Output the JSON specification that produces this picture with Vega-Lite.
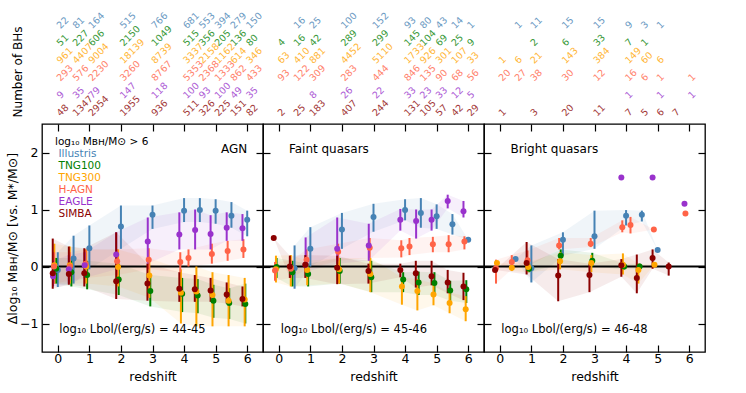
{
"$schema": "https://vega.github.io/schema/vega-lite/v6.json",
"padding": {"left": 5, "top": 10, "right": 5, "bottom": 5},
"background": "white",
"config": {
  "font": "DejaVu Sans",
  "view": {"stroke": "black", "strokeWidth": 1.3},
  "axis": {"grid": false, "domain": false, "tickColor": "black", "tickWidth": 1.2, "labelColor": "black", "titleColor": "black", "labelFontSize": 12.5, "titleFontSize": 12.5, "titleFontWeight": "normal", "labelFont": "DejaVu Sans", "titleFont": "DejaVu Sans"},
  "text": {"font": "DejaVu Sans"}
},
"datasets": {
"counts": [
{"p":1,"s":"Illustris","z":0,"n":22},{"p":1,"s":"Illustris","z":0.5,"n":81},{"p":1,"s":"Illustris","z":1,"n":164},{"p":1,"s":"Illustris","z":2,"n":515},{"p":1,"s":"Illustris","z":3,"n":766},{"p":1,"s":"Illustris","z":4,"n":681},{"p":1,"s":"Illustris","z":4.5,"n":553},{"p":1,"s":"Illustris","z":5,"n":394},{"p":1,"s":"Illustris","z":5.5,"n":279},{"p":1,"s":"Illustris","z":6,"n":150},
{"p":1,"s":"TNG100","z":0,"n":51},{"p":1,"s":"TNG100","z":0.5,"n":227},{"p":1,"s":"TNG100","z":1,"n":606},{"p":1,"s":"TNG100","z":2,"n":2150},{"p":1,"s":"TNG100","z":3,"n":1049},{"p":1,"s":"TNG100","z":4,"n":515},{"p":1,"s":"TNG100","z":4.5,"n":356},{"p":1,"s":"TNG100","z":5,"n":205},{"p":1,"s":"TNG100","z":5.5,"n":136},{"p":1,"s":"TNG100","z":6,"n":80},
{"p":1,"s":"TNG300","z":0,"n":961},{"p":1,"s":"TNG300","z":0.5,"n":4407},{"p":1,"s":"TNG300","z":1,"n":9004},{"p":1,"s":"TNG300","z":2,"n":18139},{"p":1,"s":"TNG300","z":3,"n":8739},{"p":1,"s":"TNG300","z":4,"n":3337},{"p":1,"s":"TNG300","z":4.5,"n":2158},{"p":1,"s":"TNG300","z":5,"n":1162},{"p":1,"s":"TNG300","z":5.5,"n":614},{"p":1,"s":"TNG300","z":6,"n":346},
{"p":1,"s":"H-AGN","z":0,"n":293},{"p":1,"s":"H-AGN","z":0.5,"n":576},{"p":1,"s":"H-AGN","z":1,"n":2230},{"p":1,"s":"H-AGN","z":2,"n":3260},{"p":1,"s":"H-AGN","z":3,"n":8767},{"p":1,"s":"H-AGN","z":4,"n":5353},{"p":1,"s":"H-AGN","z":4.5,"n":2368},{"p":1,"s":"H-AGN","z":5,"n":1333},{"p":1,"s":"H-AGN","z":5.5,"n":862},{"p":1,"s":"H-AGN","z":6,"n":433},
{"p":1,"s":"EAGLE","z":0,"n":9},{"p":1,"s":"EAGLE","z":0.5,"n":35},{"p":1,"s":"EAGLE","z":1,"n":79},{"p":1,"s":"EAGLE","z":2,"n":147},{"p":1,"s":"EAGLE","z":3,"n":118},{"p":1,"s":"EAGLE","z":4,"n":100},{"p":1,"s":"EAGLE","z":4.5,"n":93},{"p":1,"s":"EAGLE","z":5,"n":100},{"p":1,"s":"EAGLE","z":5.5,"n":49},{"p":1,"s":"EAGLE","z":6,"n":35},
{"p":1,"s":"SIMBA","z":0,"n":48},{"p":1,"s":"SIMBA","z":0.5,"n":1347},{"p":1,"s":"SIMBA","z":1,"n":2954},{"p":1,"s":"SIMBA","z":2,"n":1955},{"p":1,"s":"SIMBA","z":3,"n":936},{"p":1,"s":"SIMBA","z":4,"n":511},{"p":1,"s":"SIMBA","z":4.5,"n":326},{"p":1,"s":"SIMBA","z":5,"n":225},{"p":1,"s":"SIMBA","z":5.5,"n":151},{"p":1,"s":"SIMBA","z":6,"n":82},
{"p":2,"s":"Illustris","z":0.5,"n":16},{"p":2,"s":"Illustris","z":1,"n":25},{"p":2,"s":"Illustris","z":2,"n":100},{"p":2,"s":"Illustris","z":3,"n":152},{"p":2,"s":"Illustris","z":4,"n":93},{"p":2,"s":"Illustris","z":4.5,"n":80},{"p":2,"s":"Illustris","z":5,"n":43},{"p":2,"s":"Illustris","z":5.5,"n":14},{"p":2,"s":"Illustris","z":6,"n":1},
{"p":2,"s":"TNG100","z":0,"n":4},{"p":2,"s":"TNG100","z":0.5,"n":16},{"p":2,"s":"TNG100","z":1,"n":42},{"p":2,"s":"TNG100","z":2,"n":289},{"p":2,"s":"TNG100","z":3,"n":299},{"p":2,"s":"TNG100","z":4,"n":145},{"p":2,"s":"TNG100","z":4.5,"n":104},{"p":2,"s":"TNG100","z":5,"n":69},{"p":2,"s":"TNG100","z":5.5,"n":25},{"p":2,"s":"TNG100","z":6,"n":9},
{"p":2,"s":"TNG300","z":0,"n":63},{"p":2,"s":"TNG300","z":0.5,"n":410},{"p":2,"s":"TNG300","z":1,"n":881},{"p":2,"s":"TNG300","z":2,"n":4452},{"p":2,"s":"TNG300","z":3,"n":5110},{"p":2,"s":"TNG300","z":4,"n":1733},{"p":2,"s":"TNG300","z":4.5,"n":926},{"p":2,"s":"TNG300","z":5,"n":301},{"p":2,"s":"TNG300","z":5.5,"n":107},{"p":2,"s":"TNG300","z":6,"n":33},
{"p":2,"s":"H-AGN","z":0,"n":93},{"p":2,"s":"H-AGN","z":0.5,"n":122},{"p":2,"s":"H-AGN","z":1,"n":309},{"p":2,"s":"H-AGN","z":2,"n":283},{"p":2,"s":"H-AGN","z":3,"n":444},{"p":2,"s":"H-AGN","z":4,"n":846},{"p":2,"s":"H-AGN","z":4.5,"n":135},{"p":2,"s":"H-AGN","z":5,"n":90},{"p":2,"s":"H-AGN","z":5.5,"n":68},{"p":2,"s":"H-AGN","z":6,"n":56},
{"p":2,"s":"EAGLE","z":1,"n":8},{"p":2,"s":"EAGLE","z":2,"n":26},{"p":2,"s":"EAGLE","z":3,"n":22},{"p":2,"s":"EAGLE","z":4,"n":33},{"p":2,"s":"EAGLE","z":4.5,"n":23},{"p":2,"s":"EAGLE","z":5,"n":33},{"p":2,"s":"EAGLE","z":5.5,"n":12},{"p":2,"s":"EAGLE","z":6,"n":5},
{"p":2,"s":"SIMBA","z":0,"n":2},{"p":2,"s":"SIMBA","z":0.5,"n":25},{"p":2,"s":"SIMBA","z":1,"n":183},{"p":2,"s":"SIMBA","z":2,"n":407},{"p":2,"s":"SIMBA","z":3,"n":244},{"p":2,"s":"SIMBA","z":4,"n":131},{"p":2,"s":"SIMBA","z":4.5,"n":105},{"p":2,"s":"SIMBA","z":5,"n":57},{"p":2,"s":"SIMBA","z":5.5,"n":42},{"p":2,"s":"SIMBA","z":6,"n":29},
{"p":3,"s":"Illustris","z":0.5,"n":1},{"p":3,"s":"Illustris","z":1,"n":11},{"p":3,"s":"Illustris","z":2,"n":15},{"p":3,"s":"Illustris","z":3,"n":15},{"p":3,"s":"Illustris","z":4,"n":9},{"p":3,"s":"Illustris","z":4.5,"n":3},{"p":3,"s":"Illustris","z":5,"n":1},
{"p":3,"s":"TNG100","z":1,"n":2},{"p":3,"s":"TNG100","z":2,"n":6},{"p":3,"s":"TNG100","z":3,"n":33},{"p":3,"s":"TNG100","z":4,"n":7},{"p":3,"s":"TNG100","z":4.5,"n":1},
{"p":3,"s":"TNG300","z":0,"n":1},{"p":3,"s":"TNG300","z":0.5,"n":6},{"p":3,"s":"TNG300","z":1,"n":21},{"p":3,"s":"TNG300","z":2,"n":143},{"p":3,"s":"TNG300","z":3,"n":384},{"p":3,"s":"TNG300","z":4,"n":149},{"p":3,"s":"TNG300","z":4.5,"n":60},{"p":3,"s":"TNG300","z":5,"n":6},
{"p":3,"s":"H-AGN","z":0,"n":20},{"p":3,"s":"H-AGN","z":0.5,"n":27},{"p":3,"s":"H-AGN","z":1,"n":38},{"p":3,"s":"H-AGN","z":2,"n":30},{"p":3,"s":"H-AGN","z":3,"n":12},{"p":3,"s":"H-AGN","z":4,"n":16},{"p":3,"s":"H-AGN","z":4.5,"n":6},{"p":3,"s":"H-AGN","z":5,"n":1},{"p":3,"s":"H-AGN","z":6,"n":1},
{"p":3,"s":"EAGLE","z":4,"n":1},{"p":3,"s":"EAGLE","z":5,"n":1},{"p":3,"s":"EAGLE","z":6,"n":1},
{"p":3,"s":"SIMBA","z":0,"n":1},{"p":3,"s":"SIMBA","z":1,"n":3},{"p":3,"s":"SIMBA","z":2,"n":20},{"p":3,"s":"SIMBA","z":3,"n":11},{"p":3,"s":"SIMBA","z":4,"n":7},{"p":3,"s":"SIMBA","z":4.5,"n":5},{"p":3,"s":"SIMBA","z":5,"n":6},{"p":3,"s":"SIMBA","z":5.5,"n":7}
],
"pts": [
{"p":1,"s":"Illustris","z":0,"y":-0.06,"lo":-0.36,"hi":0.25},{"p":1,"s":"Illustris","z":0.5,"y":0.14,"lo":-0.3,"hi":0.54},{"p":1,"s":"Illustris","z":1,"y":0.32,"lo":-0.05,"hi":0.72},{"p":1,"s":"Illustris","z":2,"y":0.7,"lo":0.31,"hi":1.07},{"p":1,"s":"Illustris","z":3,"y":0.91,"lo":0.66,"hi":1.07},{"p":1,"s":"Illustris","z":4,"y":0.98,"lo":0.78,"hi":1.2},{"p":1,"s":"Illustris","z":4.5,"y":0.99,"lo":0.78,"hi":1.2},{"p":1,"s":"Illustris","z":5,"y":0.98,"lo":0.75,"hi":1.18},{"p":1,"s":"Illustris","z":5.5,"y":0.89,"lo":0.68,"hi":1.13},{"p":1,"s":"Illustris","z":6,"y":0.82,"lo":0.53,"hi":0.98},
{"p":1,"s":"TNG100","z":-0.05,"y":-0.04,"lo":-0.3,"hi":0.15},{"p":1,"s":"TNG100","z":0.43,"y":-0.1,"lo":-0.35,"hi":0.15},{"p":1,"s":"TNG100","z":0.93,"y":-0.15,"lo":-0.4,"hi":0.1},{"p":1,"s":"TNG100","z":1.93,"y":-0.23,"lo":-0.5,"hi":0.05},{"p":1,"s":"TNG100","z":2.93,"y":-0.43,"lo":-0.7,"hi":-0.15},{"p":1,"s":"TNG100","z":3.94,"y":-0.48,"lo":-0.8,"hi":-0.2},{"p":1,"s":"TNG100","z":4.43,"y":-0.51,"lo":-0.82,"hi":-0.22},{"p":1,"s":"TNG100","z":4.93,"y":-0.6,"lo":-0.9,"hi":-0.32},{"p":1,"s":"TNG100","z":5.43,"y":-0.64,"lo":-0.92,"hi":-0.38},{"p":1,"s":"TNG100","z":5.94,"y":-0.66,"lo":-1.0,"hi":-0.3},
{"p":1,"s":"TNG300","z":-0.11,"y":0.02,"lo":-0.3,"hi":0.4},{"p":1,"s":"TNG300","z":0.38,"y":0.02,"lo":-0.3,"hi":0.35},{"p":1,"s":"TNG300","z":0.9,"y":0.0,"lo":-0.3,"hi":0.3},{"p":1,"s":"TNG300","z":1.91,"y":-0.01,"lo":-0.35,"hi":0.3},{"p":1,"s":"TNG300","z":2.9,"y":-0.16,"lo":-0.55,"hi":0.15},{"p":1,"s":"TNG300","z":3.9,"y":-0.46,"lo":-1.0,"hi":-0.05},{"p":1,"s":"TNG300","z":4.39,"y":-0.44,"lo":-1.05,"hi":0.0},{"p":1,"s":"TNG300","z":4.9,"y":-0.5,"lo":-1.05,"hi":-0.1},{"p":1,"s":"TNG300","z":5.41,"y":-0.6,"lo":-1.05,"hi":-0.15},{"p":1,"s":"TNG300","z":5.92,"y":-0.58,"lo":-1.05,"hi":-0.2},
{"p":1,"s":"H-AGN","z":-0.12,"y":0.0,"lo":-0.3,"hi":0.25},{"p":1,"s":"H-AGN","z":0.38,"y":0.0,"lo":-0.25,"hi":0.25},{"p":1,"s":"H-AGN","z":0.88,"y":0.05,"lo":-0.2,"hi":0.3},{"p":1,"s":"H-AGN","z":1.88,"y":0.09,"lo":-0.15,"hi":0.3},{"p":1,"s":"H-AGN","z":2.88,"y":0.12,"lo":-0.05,"hi":0.32},{"p":1,"s":"H-AGN","z":3.88,"y":0.08,"lo":-0.1,"hi":0.25},{"p":1,"s":"H-AGN","z":4.14,"y":0.15,"lo":0.0,"hi":0.3},{"p":1,"s":"H-AGN","z":4.88,"y":0.22,"lo":0.05,"hi":0.4},{"p":1,"s":"H-AGN","z":5.38,"y":0.27,"lo":0.1,"hi":0.45},{"p":1,"s":"H-AGN","z":5.88,"y":0.3,"lo":0.15,"hi":0.48},
{"p":1,"s":"EAGLE","z":-0.15,"y":-0.17,"lo":-0.35,"hi":0.1},{"p":1,"s":"EAGLE","z":0.35,"y":-0.05,"lo":-0.3,"hi":0.2},{"p":1,"s":"EAGLE","z":0.85,"y":0.02,"lo":-0.2,"hi":0.25},{"p":1,"s":"EAGLE","z":1.85,"y":0.21,"lo":-0.05,"hi":0.6},{"p":1,"s":"EAGLE","z":2.85,"y":0.44,"lo":0.05,"hi":0.86},{"p":1,"s":"EAGLE","z":3.85,"y":0.56,"lo":0.3,"hi":0.95},{"p":1,"s":"EAGLE","z":4.35,"y":0.64,"lo":0.3,"hi":1.0},{"p":1,"s":"EAGLE","z":4.84,"y":0.57,"lo":0.3,"hi":0.9},{"p":1,"s":"EAGLE","z":5.35,"y":0.68,"lo":0.45,"hi":0.95},{"p":1,"s":"EAGLE","z":5.85,"y":0.67,"lo":0.45,"hi":0.92},
{"p":1,"s":"SIMBA","z":-0.16,"y":-0.12,"lo":-0.39,"hi":0.49},{"p":1,"s":"SIMBA","z":0.35,"y":-0.13,"lo":-0.32,"hi":0.35},{"p":1,"s":"SIMBA","z":0.84,"y":-0.12,"lo":-0.35,"hi":0.32},{"p":1,"s":"SIMBA","z":1.85,"y":-0.26,"lo":-0.57,"hi":0.6},{"p":1,"s":"SIMBA","z":2.84,"y":-0.3,"lo":-0.6,"hi":0.05},{"p":1,"s":"SIMBA","z":3.85,"y":-0.39,"lo":-0.62,"hi":-0.1},{"p":1,"s":"SIMBA","z":4.34,"y":-0.4,"lo":-0.62,"hi":-0.15},{"p":1,"s":"SIMBA","z":4.84,"y":-0.42,"lo":-0.62,"hi":-0.2},{"p":1,"s":"SIMBA","z":5.35,"y":-0.49,"lo":-0.65,"hi":-0.28},{"p":1,"s":"SIMBA","z":5.85,"y":-0.57,"lo":-0.7,"hi":-0.35},
{"p":2,"s":"Illustris","z":0.5,"y":-0.03,"lo":-0.39,"hi":0.37},{"p":2,"s":"Illustris","z":1,"y":0.31,"lo":0.0,"hi":0.69},{"p":2,"s":"Illustris","z":2,"y":0.65,"lo":0.31,"hi":0.94},{"p":2,"s":"Illustris","z":3,"y":0.87,"lo":0.61,"hi":1.1},{"p":2,"s":"Illustris","z":4,"y":0.99,"lo":0.81,"hi":1.18},{"p":2,"s":"Illustris","z":4.5,"y":0.94,"lo":0.68,"hi":1.2},{"p":2,"s":"Illustris","z":5,"y":0.88,"lo":0.66,"hi":1.09},{"p":2,"s":"Illustris","z":5.5,"y":0.74,"lo":0.56,"hi":0.92},{"p":2,"s":"Illustris","z":6,"y":0.47,"lo":0.47,"hi":0.47},
{"p":2,"s":"TNG100","z":-0.07,"y":-0.01,"lo":-0.2,"hi":0.15},{"p":2,"s":"TNG100","z":0.43,"y":-0.1,"lo":-0.35,"hi":0.1},{"p":2,"s":"TNG100","z":0.93,"y":-0.13,"lo":-0.35,"hi":0.05},{"p":2,"s":"TNG100","z":1.93,"y":-0.08,"lo":-0.3,"hi":0.15},{"p":2,"s":"TNG100","z":2.93,"y":-0.19,"lo":-0.45,"hi":0.1},{"p":2,"s":"TNG100","z":3.94,"y":-0.23,"lo":-0.45,"hi":-0.1},{"p":2,"s":"TNG100","z":4.43,"y":-0.28,"lo":-0.5,"hi":-0.09},{"p":2,"s":"TNG100","z":4.93,"y":-0.29,"lo":-0.5,"hi":-0.1},{"p":2,"s":"TNG100","z":5.43,"y":-0.42,"lo":-0.6,"hi":-0.25},{"p":2,"s":"TNG100","z":5.94,"y":-0.4,"lo":-0.64,"hi":-0.24},
{"p":2,"s":"TNG300","z":-0.09,"y":-0.05,"lo":-0.28,"hi":0.19},{"p":2,"s":"TNG300","z":0.38,"y":-0.02,"lo":-0.35,"hi":0.2},{"p":2,"s":"TNG300","z":0.9,"y":-0.06,"lo":-0.33,"hi":0.1},{"p":2,"s":"TNG300","z":1.91,"y":-0.05,"lo":-0.3,"hi":0.15},{"p":2,"s":"TNG300","z":2.9,"y":-0.13,"lo":-0.45,"hi":0.15},{"p":2,"s":"TNG300","z":3.9,"y":-0.35,"lo":-0.67,"hi":-0.19},{"p":2,"s":"TNG300","z":4.39,"y":-0.43,"lo":-0.77,"hi":-0.22},{"p":2,"s":"TNG300","z":4.9,"y":-0.49,"lo":-0.68,"hi":-0.3},{"p":2,"s":"TNG300","z":5.41,"y":-0.64,"lo":-0.82,"hi":-0.45},{"p":2,"s":"TNG300","z":5.92,"y":-0.75,"lo":-0.96,"hi":-0.52},
{"p":2,"s":"H-AGN","z":-0.12,"y":-0.07,"lo":-0.25,"hi":0.08},{"p":2,"s":"H-AGN","z":0.38,"y":-0.04,"lo":-0.2,"hi":0.1},{"p":2,"s":"H-AGN","z":0.88,"y":0.12,"lo":-0.05,"hi":0.3},{"p":2,"s":"H-AGN","z":1.88,"y":0.26,"lo":0.1,"hi":0.4},{"p":2,"s":"H-AGN","z":2.88,"y":0.33,"lo":0.15,"hi":0.5},{"p":2,"s":"H-AGN","z":3.88,"y":0.32,"lo":0.16,"hi":0.46},{"p":2,"s":"H-AGN","z":4.14,"y":0.35,"lo":0.2,"hi":0.5},{"p":2,"s":"H-AGN","z":4.88,"y":0.39,"lo":0.25,"hi":0.52},{"p":2,"s":"H-AGN","z":5.38,"y":0.39,"lo":0.25,"hi":0.55},{"p":2,"s":"H-AGN","z":5.88,"y":0.44,"lo":0.3,"hi":0.53},
{"p":2,"s":"EAGLE","z":0.85,"y":0.03,"lo":-0.09,"hi":0.51},{"p":2,"s":"EAGLE","z":1.85,"y":0.31,"lo":0.05,"hi":0.86},{"p":2,"s":"EAGLE","z":2.85,"y":0.37,"lo":0.1,"hi":0.75},{"p":2,"s":"EAGLE","z":3.85,"y":0.82,"lo":0.63,"hi":1.01},{"p":2,"s":"EAGLE","z":4.35,"y":0.8,"lo":0.49,"hi":1.0},{"p":2,"s":"EAGLE","z":4.84,"y":0.82,"lo":0.63,"hi":1.0},{"p":2,"s":"EAGLE","z":5.35,"y":1.15,"lo":1.02,"hi":1.26},{"p":2,"s":"EAGLE","z":5.85,"y":0.97,"lo":0.86,"hi":1.15},
{"p":2,"s":"SIMBA","z":-0.16,"y":0.5,"lo":0.5,"hi":0.5},{"p":2,"s":"SIMBA","z":0.35,"y":0.0,"lo":-0.2,"hi":0.19},{"p":2,"s":"SIMBA","z":0.84,"y":0.03,"lo":-0.2,"hi":0.2},{"p":2,"s":"SIMBA","z":1.85,"y":-0.02,"lo":-0.31,"hi":0.19},{"p":2,"s":"SIMBA","z":2.84,"y":-0.08,"lo":-0.3,"hi":0.05},{"p":2,"s":"SIMBA","z":3.85,"y":-0.06,"lo":-0.19,"hi":0.05},{"p":2,"s":"SIMBA","z":4.34,"y":-0.12,"lo":-0.37,"hi":0.1},{"p":2,"s":"SIMBA","z":4.84,"y":-0.17,"lo":-0.33,"hi":0.1},{"p":2,"s":"SIMBA","z":5.35,"y":-0.28,"lo":-0.47,"hi":-0.06},{"p":2,"s":"SIMBA","z":5.85,"y":-0.35,"lo":-0.59,"hi":-0.11},
{"p":3,"s":"Illustris","z":0.5,"y":0.13,"lo":0.13,"hi":0.13},{"p":3,"s":"Illustris","z":1,"y":-0.03,"lo":-0.28,"hi":0.37},{"p":3,"s":"Illustris","z":2,"y":0.47,"lo":0.19,"hi":0.6},{"p":3,"s":"Illustris","z":3,"y":0.53,"lo":0.31,"hi":0.98},{"p":3,"s":"Illustris","z":4,"y":0.89,"lo":0.72,"hi":0.99},{"p":3,"s":"Illustris","z":4.5,"y":0.91,"lo":0.79,"hi":0.98},{"p":3,"s":"Illustris","z":5,"y":0.29,"lo":0.29,"hi":0.29},
{"p":3,"s":"TNG100","z":0.93,"y":-0.04,"lo":-0.1,"hi":0.05},{"p":3,"s":"TNG100","z":1.93,"y":0.19,"lo":0.05,"hi":0.3},{"p":3,"s":"TNG100","z":2.93,"y":0.1,"lo":0.0,"hi":0.24},{"p":3,"s":"TNG100","z":3.94,"y":0.0,"lo":-0.05,"hi":0.05},{"p":3,"s":"TNG100","z":4.43,"y":0.0,"lo":-0.05,"hi":0.05},
{"p":3,"s":"TNG300","z":-0.09,"y":0.06,"lo":0.06,"hi":0.06},{"p":3,"s":"TNG300","z":0.38,"y":-0.02,"lo":-0.08,"hi":0.05},{"p":3,"s":"TNG300","z":0.9,"y":-0.01,"lo":-0.1,"hi":0.08},{"p":3,"s":"TNG300","z":1.91,"y":0.09,"lo":-0.05,"hi":0.25},{"p":3,"s":"TNG300","z":2.9,"y":0.06,"lo":-0.1,"hi":0.2},{"p":3,"s":"TNG300","z":3.9,"y":0.03,"lo":-0.14,"hi":0.23},{"p":3,"s":"TNG300","z":4.39,"y":-0.06,"lo":-0.3,"hi":0.05},{"p":3,"s":"TNG300","z":4.9,"y":0.03,"lo":0.03,"hi":0.03},
{"p":3,"s":"H-AGN","z":-0.12,"y":-0.03,"lo":-0.3,"hi":0.12},{"p":3,"s":"H-AGN","z":0.38,"y":0.08,"lo":-0.05,"hi":0.2},{"p":3,"s":"H-AGN","z":0.88,"y":0.11,"lo":0.0,"hi":0.28},{"p":3,"s":"H-AGN","z":1.88,"y":0.37,"lo":0.3,"hi":0.5},{"p":3,"s":"H-AGN","z":2.88,"y":0.4,"lo":0.34,"hi":0.5},{"p":3,"s":"H-AGN","z":3.88,"y":0.69,"lo":0.6,"hi":0.81},{"p":3,"s":"H-AGN","z":4.14,"y":0.73,"lo":0.58,"hi":0.87},{"p":3,"s":"H-AGN","z":4.88,"y":0.65,"lo":0.65,"hi":0.65},{"p":3,"s":"H-AGN","z":5.88,"y":0.93,"lo":0.93,"hi":0.93},
{"p":3,"s":"EAGLE","z":3.85,"y":1.56,"lo":1.56,"hi":1.56},{"p":3,"s":"EAGLE","z":4.84,"y":1.56,"lo":1.56,"hi":1.56},{"p":3,"s":"EAGLE","z":5.85,"y":1.1,"lo":1.1,"hi":1.1},
{"p":3,"s":"SIMBA","z":-0.15,"y":-0.06,"lo":-0.06,"hi":-0.06},{"p":3,"s":"SIMBA","z":0.85,"y":0.06,"lo":-0.14,"hi":0.43},{"p":3,"s":"SIMBA","z":1.85,"y":-0.16,"lo":-0.61,"hi":0.13},{"p":3,"s":"SIMBA","z":2.84,"y":-0.15,"lo":-0.45,"hi":0.05},{"p":3,"s":"SIMBA","z":3.85,"y":0.02,"lo":-0.18,"hi":0.13},{"p":3,"s":"SIMBA","z":4.34,"y":-0.2,"lo":-0.47,"hi":0.21},{"p":3,"s":"SIMBA","z":4.84,"y":0.15,"lo":-0.04,"hi":0.3},{"p":3,"s":"SIMBA","z":5.35,"y":0.0,"lo":-0.16,"hi":0.07}
]
},
"spacing": -5,
"resolve": {"scale": {"x": "independent", "y": "independent"}, "legend": {"color": "independent"}},
"vconcat": [
{"hconcat": [
 {"width": 221, "height": 105, "view": {"stroke": null}, "data": {"name": "counts"}, "transform": [{"filter": "datum.p == 1"}],
  "mark": {"type": "text", "angle": -45, "align": "left", "baseline": "middle", "fontSize": 9.5, "opacity": 0.8, "dx": 1},
  "encoding": {
   "x": {"field": "z", "type": "quantitative", "scale": {"domain": [-0.5, 6.5], "nice": false, "zero": false}, "axis": null},
   "y": {"field": "s", "type": "nominal", "sort": ["Illustris","TNG100","TNG300","H-AGN","EAGLE","SIMBA"], "axis": {"title": "Number of BHs", "labels": false, "ticks": false, "domain": false, "titlePadding": 18, "titleFontSize": 12}},
   "text": {"field": "n", "type": "nominal"},
   "color": {"field": "s", "type": "nominal", "scale": {"domain": ["Illustris","TNG100","TNG300","H-AGN","EAGLE","SIMBA"], "range": ["steelblue","green","orange","tomato","darkorchid","darkred"]}, "legend": null}}},
 {"width": 221, "height": 105, "view": {"stroke": null}, "data": {"name": "counts"}, "transform": [{"filter": "datum.p == 2"}],
  "mark": {"type": "text", "angle": -45, "align": "left", "baseline": "middle", "fontSize": 9.5, "opacity": 0.8, "dx": 1},
  "encoding": {
   "x": {"field": "z", "type": "quantitative", "scale": {"domain": [-0.5, 6.5], "nice": false, "zero": false}, "axis": null},
   "y": {"field": "s", "type": "nominal", "sort": ["Illustris","TNG100","TNG300","H-AGN","EAGLE","SIMBA"], "axis": null},
   "text": {"field": "n", "type": "nominal"},
   "color": {"field": "s", "type": "nominal", "scale": {"domain": ["Illustris","TNG100","TNG300","H-AGN","EAGLE","SIMBA"], "range": ["steelblue","green","orange","tomato","darkorchid","darkred"]}, "legend": null}}},
 {"width": 221, "height": 105, "view": {"stroke": null}, "data": {"name": "counts"}, "transform": [{"filter": "datum.p == 3"}],
  "mark": {"type": "text", "angle": -45, "align": "left", "baseline": "middle", "fontSize": 9.5, "opacity": 0.8, "dx": 1},
  "encoding": {
   "x": {"field": "z", "type": "quantitative", "scale": {"domain": [-0.5, 6.5], "nice": false, "zero": false}, "axis": null},
   "y": {"field": "s", "type": "nominal", "sort": ["Illustris","TNG100","TNG300","H-AGN","EAGLE","SIMBA"], "axis": null},
   "text": {"field": "n", "type": "nominal"},
   "color": {"field": "s", "type": "nominal", "scale": {"domain": ["Illustris","TNG100","TNG300","H-AGN","EAGLE","SIMBA"], "range": ["steelblue","green","orange","tomato","darkorchid","darkred"]}, "legend": null}}}
 ], "spacing": 0, "bounds": "flush"},
{"hconcat": [
 {"width": 221, "height": 228, "layer": [
  {"data": {"name": "pts"}, "transform": [{"filter": "datum.p == 1"}], "mark": {"type": "area", "opacity": 0.08},
   "encoding": {
    "x": {"field": "z", "type": "quantitative", "scale": {"domain": [-0.5, 6.5], "nice": false, "zero": false}, "axis": {"orient": "bottom", "values": [0,1,2,3,4,5,6], "tickSize": -7, "labelPadding": 7, "title": "redshift", "titlePadding": 6}},
    "y": {"field": "lo", "type": "quantitative", "scale": {"domain": [-1.5, 2.5], "nice": false, "zero": false}, "axis": {"orient": "left", "values": [-1,0,1,2], "tickSize": -7, "labelPadding": 11, "title": "Δlog₁₀ Mʙʜ/M⊙   [vs. M*/M⊙]", "titlePadding": 0}},
    "y2": {"field": "hi"},
    "color": {"field": "s", "type": "nominal", "scale": {"domain": ["Illustris","TNG100","TNG300","H-AGN","EAGLE","SIMBA"], "range": ["steelblue","green","orange","tomato","darkorchid","darkred"]}}}},
  {"data": {"values": [{"v": 0}]}, "mark": {"type": "rule", "color": "black", "strokeWidth": 1.8},
   "encoding": {"y": {"field": "v", "type": "quantitative", "axis": null}}},
  {"data": {"name": "pts"}, "transform": [{"filter": "datum.p == 1"}], "mark": {"type": "rule", "strokeWidth": 2},
   "encoding": {
    "x": {"field": "z", "type": "quantitative", "axis": {"orient": "top", "values": [0,1,2,3,4,5,6], "tickSize": -7, "labels": false, "title": null}},
    "y": {"field": "lo", "type": "quantitative", "axis": {"orient": "right", "values": [-1,0,1,2], "tickSize": -7, "labels": false, "title": null}},
    "y2": {"field": "hi"},
    "color": {"field": "s", "type": "nominal", "scale": {"domain": ["Illustris","TNG100","TNG300","H-AGN","EAGLE","SIMBA"], "range": ["steelblue","green","orange","tomato","darkorchid","darkred"]}}}},
  {"data": {"name": "pts"}, "transform": [{"filter": "datum.p == 1"}], "mark": {"type": "circle", "size": 36, "opacity": 1},
   "encoding": {
    "x": {"field": "z", "type": "quantitative", "axis": null},
    "y": {"field": "y", "type": "quantitative", "axis": null},
    "color": {"field": "s", "type": "nominal", "scale": {"domain": ["Illustris","TNG100","TNG300","H-AGN","EAGLE","SIMBA"], "range": ["steelblue","green","orange","tomato","darkorchid","darkred"]},
     "legend": {"title": "log₁₀ Mʙʜ/M⊙ > 6", "orient": "top-left", "offset": 13, "padding": 0, "titleFontSize": 10.5, "titleFontWeight": "normal", "titleColor": "black", "titlePadding": 1, "labelFontSize": 10.5, "symbolSize": 0, "symbolStrokeWidth": 0, "symbolOpacity": 0, "labelOffset": -7, "rowPadding": 1, "encode": {"labels": {"update": {"fill": {"scale": "color", "field": "value"}}}}}}}},
  {"data": {"values": [{"t": "AGN"}]}, "mark": {"type": "text", "align": "right", "baseline": "middle", "fontSize": 12},
   "encoding": {"x": {"datum": 6.0, "axis": null}, "y": {"datum": 2.07, "axis": null}, "text": {"field": "t"}}},
  {"data": {"values": [{"t": "log₁₀ Lbol/(erg/s) = 44-45"}]}, "mark": {"type": "text", "align": "left", "baseline": "middle", "fontSize": 11.5},
   "encoding": {"x": {"datum": 0.05, "axis": null}, "y": {"datum": -1.12, "axis": null}, "text": {"field": "t"}}}
 ]},
 {"width": 221, "height": 228, "layer": [
  {"data": {"name": "pts"}, "transform": [{"filter": "datum.p == 2"}], "mark": {"type": "area", "opacity": 0.08},
   "encoding": {
    "x": {"field": "z", "type": "quantitative", "scale": {"domain": [-0.5, 6.5], "nice": false, "zero": false}, "axis": {"orient": "bottom", "values": [0,1,2,3,4,5,6], "tickSize": -7, "labelPadding": 7, "title": "redshift", "titlePadding": 6}},
    "y": {"field": "lo", "type": "quantitative", "scale": {"domain": [-1.5, 2.5], "nice": false, "zero": false}, "axis": {"orient": "left", "values": [-1,0,1,2], "tickSize": -7, "labels": false, "title": null}},
    "y2": {"field": "hi"},
    "color": {"field": "s", "type": "nominal", "scale": {"domain": ["Illustris","TNG100","TNG300","H-AGN","EAGLE","SIMBA"], "range": ["steelblue","green","orange","tomato","darkorchid","darkred"]}, "legend": null}}},
  {"data": {"values": [{"v": 0}]}, "mark": {"type": "rule", "color": "black", "strokeWidth": 1.8},
   "encoding": {"y": {"field": "v", "type": "quantitative", "axis": null}}},
  {"data": {"name": "pts"}, "transform": [{"filter": "datum.p == 2"}], "mark": {"type": "rule", "strokeWidth": 2},
   "encoding": {
    "x": {"field": "z", "type": "quantitative", "axis": {"orient": "top", "values": [0,1,2,3,4,5,6], "tickSize": -7, "labels": false, "title": null}},
    "y": {"field": "lo", "type": "quantitative", "axis": {"orient": "right", "values": [-1,0,1,2], "tickSize": -7, "labels": false, "title": null}},
    "y2": {"field": "hi"},
    "color": {"field": "s", "type": "nominal", "scale": {"domain": ["Illustris","TNG100","TNG300","H-AGN","EAGLE","SIMBA"], "range": ["steelblue","green","orange","tomato","darkorchid","darkred"]}, "legend": null}}},
  {"data": {"name": "pts"}, "transform": [{"filter": "datum.p == 2"}], "mark": {"type": "circle", "size": 36, "opacity": 1},
   "encoding": {
    "x": {"field": "z", "type": "quantitative", "axis": null},
    "y": {"field": "y", "type": "quantitative", "axis": null},
    "color": {"field": "s", "type": "nominal", "scale": {"domain": ["Illustris","TNG100","TNG300","H-AGN","EAGLE","SIMBA"], "range": ["steelblue","green","orange","tomato","darkorchid","darkred"]}, "legend": null}}},
  {"data": {"values": [{"t": "Faint quasars"}]}, "mark": {"type": "text", "align": "left", "baseline": "middle", "fontSize": 12},
   "encoding": {"x": {"datum": 0.32, "axis": null}, "y": {"datum": 2.07, "axis": null}, "text": {"field": "t"}}},
  {"data": {"values": [{"t": "log₁₀ Lbol/(erg/s) = 45-46"}]}, "mark": {"type": "text", "align": "left", "baseline": "middle", "fontSize": 11.5},
   "encoding": {"x": {"datum": 0.06, "axis": null}, "y": {"datum": -1.12, "axis": null}, "text": {"field": "t"}}}
 ]},
 {"width": 221, "height": 228, "layer": [
  {"data": {"name": "pts"}, "transform": [{"filter": "datum.p == 3"}], "mark": {"type": "area", "opacity": 0.08},
   "encoding": {
    "x": {"field": "z", "type": "quantitative", "scale": {"domain": [-0.5, 6.5], "nice": false, "zero": false}, "axis": {"orient": "bottom", "values": [0,1,2,3,4,5,6], "tickSize": -7, "labelPadding": 7, "title": "redshift", "titlePadding": 6}},
    "y": {"field": "lo", "type": "quantitative", "scale": {"domain": [-1.5, 2.5], "nice": false, "zero": false}, "axis": {"orient": "left", "values": [-1,0,1,2], "tickSize": -7, "labels": false, "title": null}},
    "y2": {"field": "hi"},
    "color": {"field": "s", "type": "nominal", "scale": {"domain": ["Illustris","TNG100","TNG300","H-AGN","EAGLE","SIMBA"], "range": ["steelblue","green","orange","tomato","darkorchid","darkred"]}, "legend": null}}},
  {"data": {"values": [{"v": 0}]}, "mark": {"type": "rule", "color": "black", "strokeWidth": 1.8},
   "encoding": {"y": {"field": "v", "type": "quantitative", "axis": null}}},
  {"data": {"name": "pts"}, "transform": [{"filter": "datum.p == 3"}], "mark": {"type": "rule", "strokeWidth": 2},
   "encoding": {
    "x": {"field": "z", "type": "quantitative", "axis": {"orient": "top", "values": [0,1,2,3,4,5,6], "tickSize": -7, "labels": false, "title": null}},
    "y": {"field": "lo", "type": "quantitative", "axis": {"orient": "right", "values": [-1,0,1,2], "tickSize": -7, "labels": false, "title": null}},
    "y2": {"field": "hi"},
    "color": {"field": "s", "type": "nominal", "scale": {"domain": ["Illustris","TNG100","TNG300","H-AGN","EAGLE","SIMBA"], "range": ["steelblue","green","orange","tomato","darkorchid","darkred"]}, "legend": null}}},
  {"data": {"name": "pts"}, "transform": [{"filter": "datum.p == 3"}], "mark": {"type": "circle", "size": 36, "opacity": 1},
   "encoding": {
    "x": {"field": "z", "type": "quantitative", "axis": null},
    "y": {"field": "y", "type": "quantitative", "axis": null},
    "color": {"field": "s", "type": "nominal", "scale": {"domain": ["Illustris","TNG100","TNG300","H-AGN","EAGLE","SIMBA"], "range": ["steelblue","green","orange","tomato","darkorchid","darkred"]}, "legend": null}}},
  {"data": {"values": [{"t": "Bright quasars"}]}, "mark": {"type": "text", "align": "left", "baseline": "middle", "fontSize": 12},
   "encoding": {"x": {"datum": 0.34, "axis": null}, "y": {"datum": 2.07, "axis": null}, "text": {"field": "t"}}},
  {"data": {"values": [{"t": "log₁₀ Lbol/(erg/s) = 46-48"}]}, "mark": {"type": "text", "align": "left", "baseline": "middle", "fontSize": 11.5},
   "encoding": {"x": {"datum": 0.05, "axis": null}, "y": {"datum": -1.12, "axis": null}, "text": {"field": "t"}}}
 ]}
 ], "spacing": 0, "bounds": "flush", "resolve": {"legend": {"color": "independent"}}}
]
}
